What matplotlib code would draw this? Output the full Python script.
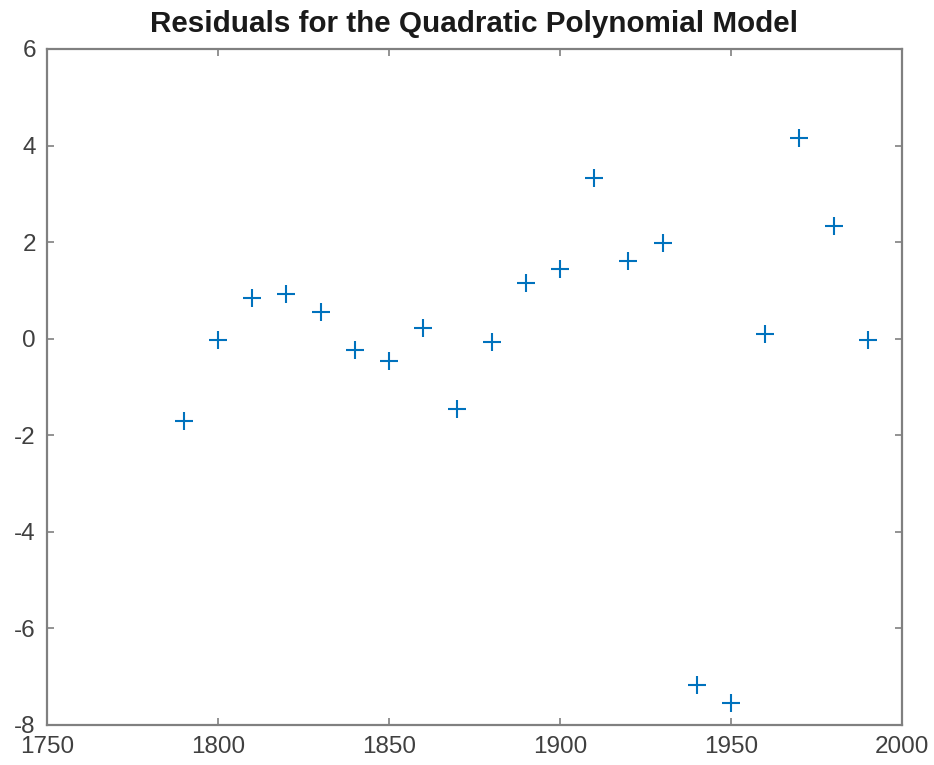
import matplotlib.pyplot as plt

plt.rcParams['font.family'] = ['Liberation Sans', 'DejaVu Sans']
plt.rcParams['axes.unicode_minus'] = False

years = [1790, 1800, 1810, 1820, 1830, 1840, 1850, 1860, 1870, 1880, 1890,
         1900, 1910, 1920, 1930, 1940, 1950, 1960, 1970, 1980, 1990]
residuals = [-1.70, -0.02, 0.84, 0.92, 0.55, -0.23, -0.47, 0.22, -1.45, -0.06, 1.16,
             1.45, 3.32, 1.61, 1.98, -7.17, -7.54, 0.10, 4.16, 2.34, -0.02]

fig = plt.figure(figsize=(9.34, 7.65), dpi=100)
ax = fig.add_axes([0.0503, 0.0523, 0.9154, 0.8837])

ax.plot(years, residuals, linestyle='none', marker='+', markersize=13,
        markeredgewidth=1.5, color='#0072BD')

ax.set_xlim(1750, 2000)
ax.set_ylim(-8, 6)
ax.set_xticks(range(1750, 2001, 50))
ax.set_yticks(range(-8, 7, 2))

for s in ax.spines.values():
    s.set_color('#808080')
    s.set_linewidth(1.6)
ax.tick_params(direction='in', top=True, right=True, length=5, width=1.2,
               color='#808080', labelcolor='#404040', labelsize=17.5)
ax.tick_params(axis='y', pad=8)
ax.tick_params(axis='x', pad=8)

ax.set_title('Residuals for the Quadratic Polynomial Model', fontsize=21.3,
             fontweight='bold', color='#1a1a1a', pad=12)

fig.savefig('out.png', dpi=100)
